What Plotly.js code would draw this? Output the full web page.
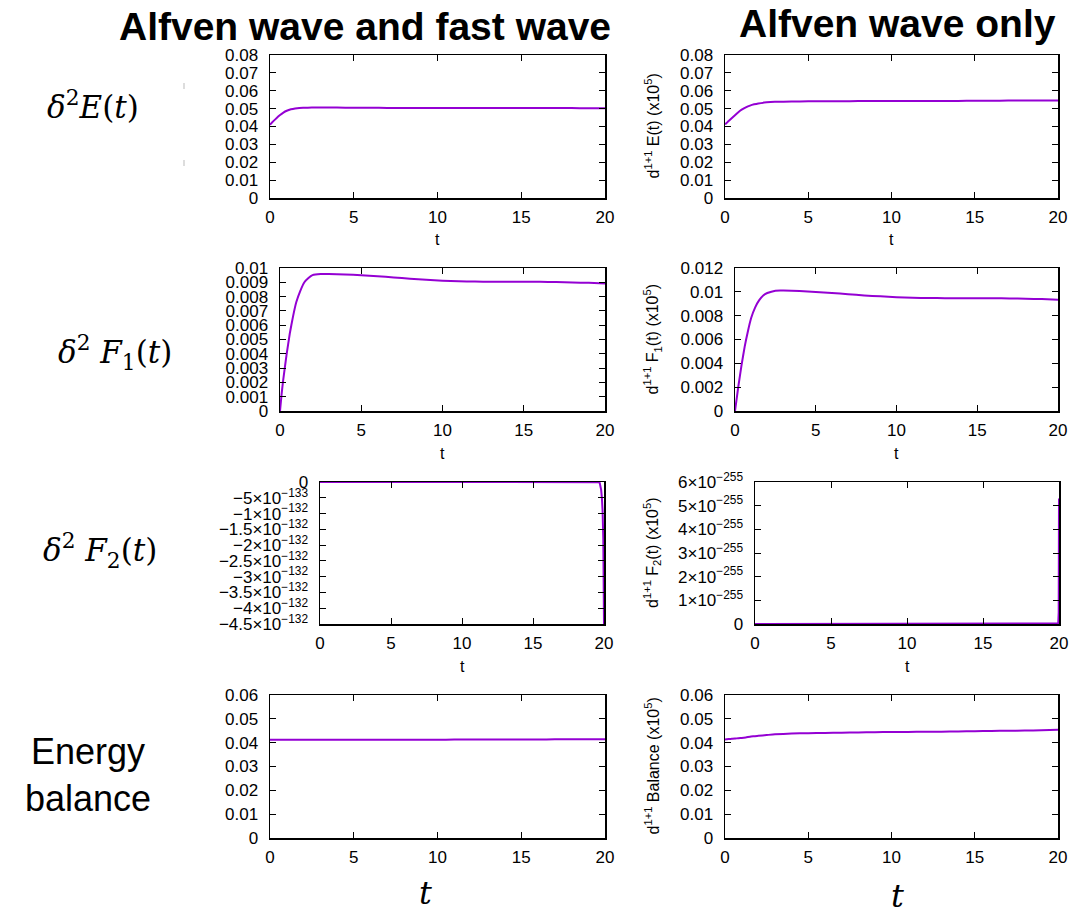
<!DOCTYPE html>
<html>
<head>
<meta charset="utf-8">
<script src="https://cdn.plot.ly/plotly-3.0.1.min.js"></script>
<style>html,body{margin:0;padding:0;background:#fff;}#chart{width:1073px;height:916px;}</style>
</head>
<body>
<div id="chart"></div>
<script>
// ---- data ----
const tCommon = [0, 0.1, 0.2, 0.4, 0.6, 0.8, 1.0, 1.25, 1.5, 1.75, 2, 2.5, 3, 4, 5, 6, 7, 8, 9, 10, 11, 12, 13, 14, 15, 16, 17, 18, 19, 20];

// delta^2 E(t): Alfven wave and fast wave
const eAlfFast = [0.0410, 0.0420, 0.0430, 0.0448, 0.0464, 0.0478, 0.0488, 0.0496, 0.0501, 0.0504, 0.0505, 0.0506, 0.0506, 0.0506, 0.0505, 0.0505, 0.0504, 0.0504, 0.0503, 0.0503, 0.0503, 0.0503, 0.0503, 0.0503, 0.0503, 0.0503, 0.0503, 0.0503, 0.0502, 0.0502];
// d^{1+1} E(t): Alfven wave only
const eAlfOnly = [0.0412, 0.0420, 0.0429, 0.0446, 0.0463, 0.0480, 0.0494, 0.0507, 0.0517, 0.0524, 0.0529, 0.0535, 0.0538, 0.0540, 0.0541, 0.0541, 0.0541, 0.0542, 0.0542, 0.0542, 0.0542, 0.0543, 0.0543, 0.0543, 0.0544, 0.0544, 0.0545, 0.0545, 0.0546, 0.0546];

// F1(t)
const f1AlfFast = [0, 0.0012, 0.0022, 0.0039, 0.0054, 0.0066, 0.0076, 0.0084, 0.0090, 0.0093, 0.00950, 0.00958, 0.00958, 0.00955, 0.00950, 0.00943, 0.00934, 0.00925, 0.00917, 0.00911, 0.00907, 0.00905, 0.00904, 0.00904, 0.00904, 0.00903, 0.00902, 0.00899, 0.00896, 0.00892];
const f1AlfOnly = [0, 0.0010, 0.0020, 0.0038, 0.0054, 0.0067, 0.0078, 0.0087, 0.0093, 0.0097, 0.0099, 0.01010, 0.01011, 0.01007, 0.00999, 0.00990, 0.00980, 0.00970, 0.00962, 0.00955, 0.00950, 0.00948, 0.00947, 0.00947, 0.00947, 0.00946, 0.00945, 0.00942, 0.00939, 0.00934];

// Energy balance
const balAlfFast = [0.0412, 0.0412, 0.0412, 0.0412, 0.0412, 0.0412, 0.0412, 0.0412, 0.0412, 0.0412, 0.0412, 0.0412, 0.0412, 0.0412, 0.0412, 0.0412, 0.0412, 0.0412, 0.0412, 0.0412, 0.0413, 0.0413, 0.0413, 0.0413, 0.0413, 0.0413, 0.0414, 0.0414, 0.0414, 0.0414];
const balAlfOnly = [0.0413, 0.0414, 0.0415, 0.0416, 0.0417, 0.0419, 0.0420, 0.0422, 0.0425, 0.0427, 0.0429, 0.0432, 0.0435, 0.0438, 0.0440, 0.0441, 0.0442, 0.0443, 0.0444, 0.0445, 0.0445, 0.0446, 0.0446, 0.0447, 0.0448, 0.0449, 0.0450, 0.0451, 0.0452, 0.0454];

// F2(t)
const tF2AlfFast = [0, 5, 10, 15, 19, 19.5, 19.6, 19.7, 19.8, 19.85, 19.9, 19.95, 19.98, 20];
const f2AlfFast = [0, 0, 0, 0, 0, -1e-135, -5e-135, -3e-134, -2.5e-133, -5e-133, -9e-133, -1.8e-132, -3e-132, -4.5e-132];
const tF2AlfOnly = [0, 5, 10, 15, 19, 19.9, 19.95, 19.98, 20];
const f2AlfOnly = [0, 0, 0, 0, 0, 0, 2e-257, 5e-256, 5.3e-255];

// tick labels
const f2FastTickVals = [0, -5e-133, -1e-132, -1.5e-132, -2e-132, -2.5e-132, -3e-132, -3.5e-132, -4e-132, -4.5e-132];
const f2FastTickText = ['0', '\u22125\u00d710<sup>\u2212133</sup>', '\u22121\u00d710<sup>\u2212132</sup>', '\u22121.5\u00d710<sup>\u2212132</sup>', '\u22122\u00d710<sup>\u2212132</sup>', '\u22122.5\u00d710<sup>\u2212132</sup>', '\u22123\u00d710<sup>\u2212132</sup>', '\u22123.5\u00d710<sup>\u2212132</sup>', '\u22124\u00d710<sup>\u2212132</sup>', '\u22124.5\u00d710<sup>\u2212132</sup>'];
const f2OnlyTickVals = [0, 1e-255, 2e-255, 3e-255, 4e-255, 5e-255, 6e-255];
const f2OnlyTickText = ['0', '1\u00d710<sup>\u2212255</sup>', '2\u00d710<sup>\u2212255</sup>', '3\u00d710<sup>\u2212255</sup>', '4\u00d710<sup>\u2212255</sup>', '5\u00d710<sup>\u2212255</sup>', '6\u00d710<sup>\u2212255</sup>'];

const colTitles = ['Alfven wave and fast wave', 'Alfven wave only'];
const rowLabels = ['<i>\u03b4</i><sup>2</sup><i>E</i>(<i>t</i>)', '<i>\u03b4</i><sup>2</sup> <i>F</i><sub>1</sub>(<i>t</i>)', '<i>\u03b4</i><sup>2</sup> <i>F</i><sub>2</sub>(<i>t</i>)', 'Energy<br>balance'];
const rightYTitles = ['d<sup>1+1</sup> E(t) (x10<sup>5</sup>)', 'd<sup>1+1</sup> F<sub>1</sub>(t) (x10<sup>5</sup>)', 'd<sup>1+1</sup> F<sub>2</sub>(t) (x10<sup>5</sup>)', 'd<sup>1+1</sup> Balance (x10<sup>5</sup>)'];

// ---- layout helpers ----
const W = 1073, H = 916;
const px = v => v / W;
const py = v => 1 - v / H;
// panel boxes [left, right, top, bottom] in pixels
const boxes = [
  [270, 605, 55, 198], [725, 1058, 55, 198],
  [280, 605, 268, 411], [735, 1058, 268, 411],
  [320, 604, 482, 624], [755, 1059, 482, 624],
  [270, 605, 695, 838], [725, 1058, 695, 838]
];
const tickFont = {family: 'Liberation Sans, Arial, sans-serif', size: 17, color: '#000'};
const axTitleFont = {family: 'Liberation Sans, Arial, sans-serif', size: 16, color: '#000'};
const LINE = {color: '#9400d3', width: 2};

const series = [
  [tCommon, eAlfFast, 'spline'], [tCommon, eAlfOnly, 'spline'],
  [tCommon, f1AlfFast, 'spline'], [tCommon, f1AlfOnly, 'spline'],
  [tF2AlfFast, f2AlfFast, 'linear'], [tF2AlfOnly, f2AlfOnly, 'linear'],
  [tCommon, balAlfFast, 'spline'], [tCommon, balAlfOnly, 'spline']
];
const yRanges = [[0, 0.08], [0, 0.08], [0, 0.01], [0, 0.012], [-4.5e-132, 0], [0, 6e-255], [0, 0.06], [0, 0.06]];
const yDticks = [0.01, 0.01, 0.001, 0.002, null, null, 0.01, 0.01];

const data = series.map((s, i) => ({
  x: s[0], y: s[1], type: 'scatter', mode: 'lines',
  line: Object.assign({shape: s[2], smoothing: 0.5}, LINE),
  xaxis: 'x' + (i ? i + 1 : ''), yaxis: 'y' + (i ? i + 1 : ''),
  hoverinfo: 'skip'
}));

const layout = {
  width: W, height: H,
  margin: {l: 0, r: 0, t: 0, b: 0},
  paper_bgcolor: '#fff', plot_bgcolor: '#fff',
  showlegend: false,
  font: tickFont,
  annotations: [], shapes: []
};

boxes.forEach((b, i) => {
  const n = i ? i + 1 : '';
  const xa = {
    domain: [px(b[0]), px(b[1])], anchor: 'y' + n,
    range: [0, 20], tick0: 0, dtick: 5,
    showgrid: false, zeroline: false,
    showline: true, linecolor: '#000', linewidth: 1.5, mirror: 'ticks',
    ticks: 'inside', ticklen: 6, tickwidth: 1, tickcolor: '#000',
    tickfont: tickFont, ticklabelstandoff: 3
  };
  const ya = {
    domain: [py(b[3]), py(b[2])], anchor: 'x' + n,
    range: yRanges[i],
    showgrid: false, zeroline: false,
    showline: true, linecolor: '#000', linewidth: 1.5, mirror: 'ticks',
    ticks: 'inside', ticklen: 6, tickwidth: 1, tickcolor: '#000',
    tickfont: tickFont, ticklabelstandoff: 7
  };
  if (yDticks[i] !== null) { ya.tick0 = 0; ya.dtick = yDticks[i]; }
  else if (i === 4) { ya.tickmode = 'array'; ya.tickvals = f2FastTickVals; ya.ticktext = f2FastTickText; }
  else { ya.tickmode = 'array'; ya.tickvals = f2OnlyTickVals; ya.ticktext = f2OnlyTickText; }
  layout['xaxis' + n] = xa;
  layout['yaxis' + n] = ya;
  // small "t" x-axis titles (rows 1-3)
  if (i < 6) {
    layout.annotations.push({
      text: 't', xref: 'paper', yref: 'paper', x: px((b[0] + b[1]) / 2), y: py(b[3] + 42),
      xanchor: 'center', yanchor: 'middle', showarrow: false, font: axTitleFont
    });
  }
});

// right column y titles
[0, 1, 2, 3].forEach(r => {
  const b = boxes[2 * r + 1];
  layout.annotations.push({
    text: rightYTitles[r], xref: 'paper', yref: 'paper', x: px(652), y: py((b[2] + b[3]) / 2),
    xanchor: 'center', yanchor: 'middle', textangle: -90, showarrow: false, font: axTitleFont
  });
});

// column titles
const titleFont = {family: 'Liberation Sans, Arial, sans-serif', size: 39, color: '#000', weight: 'bold'};
layout.annotations.push({text: colTitles[0], xref: 'paper', yref: 'paper', x: px(365), y: py(26), xanchor: 'center', yanchor: 'middle', showarrow: false, font: titleFont});
layout.annotations.push({text: colTitles[1], xref: 'paper', yref: 'paper', x: px(897), y: py(24), xanchor: 'center', yanchor: 'middle', showarrow: false, font: titleFont});

// row labels
const mathFont = {family: 'DejaVu Serif, Liberation Serif, serif', size: 31, color: '#000'};
const rowPos = [[93, 105], [115, 352], [100, 550]];
rowPos.forEach((p, r) => {
  layout.annotations.push({text: rowLabels[r], xref: 'paper', yref: 'paper', x: px(p[0]), y: py(p[1]), xanchor: 'center', yanchor: 'middle', showarrow: false, font: mathFont});
});
layout.annotations.push({text: rowLabels[3], xref: 'paper', yref: 'paper', x: px(88), y: py(775), xanchor: 'center', yanchor: 'middle', showarrow: false,
  font: {family: 'Liberation Sans, Arial, sans-serif', size: 36, color: '#000'}});

// big italic t below bottom row
const bigT = {family: 'DejaVu Serif, Liberation Serif, serif', size: 32, color: '#000'};
layout.annotations.push({text: '<i>t</i>', xref: 'paper', yref: 'paper', x: px(425), y: py(893), xanchor: 'center', yanchor: 'middle', showarrow: false, font: bigT});
layout.annotations.push({text: '<i>t</i>', xref: 'paper', yref: 'paper', x: px(897), y: py(896), xanchor: 'center', yanchor: 'middle', showarrow: false, font: bigT});

// faint grey marks left of first panel
layout.shapes.push({type: 'line', xref: 'paper', yref: 'paper', x0: px(184), x1: px(184), y0: py(83), y1: py(89), line: {color: '#bbb', width: 1}});
layout.shapes.push({type: 'line', xref: 'paper', yref: 'paper', x0: px(184), x1: px(184), y0: py(160), y1: py(166), line: {color: '#bbb', width: 1}});

Plotly.newPlot('chart', data, layout, {staticPlot: true, displayModeBar: false});
</script>
</body>
</html>
